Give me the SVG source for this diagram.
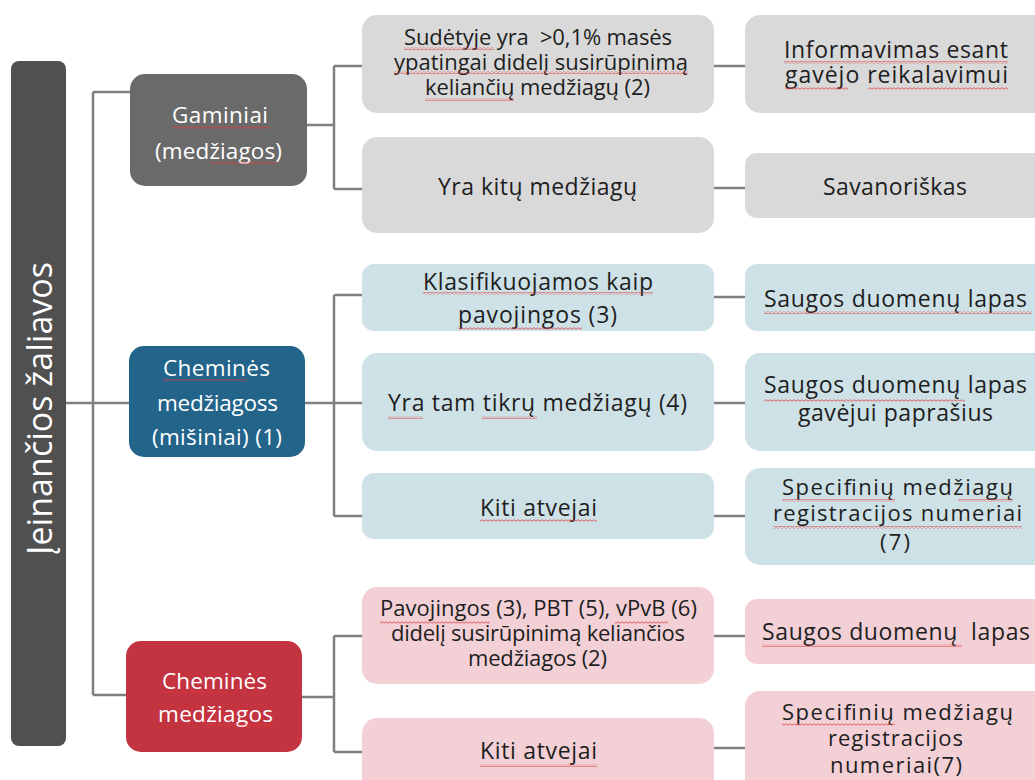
<svg xmlns="http://www.w3.org/2000/svg" width="1035" height="780" viewBox="0 0 1035 780">
<defs>
<pattern id="sq" width="4" height="3" patternUnits="userSpaceOnUse"><path d="M0 2.3 L2 0.7 L4 2.3" fill="none" stroke="#e23b3b" stroke-width="0.8"/></pattern>
<style>
.t{font-family:"Open Sans","Noto Sans",sans-serif;font-size:23px;fill:#1e1e1e;text-anchor:middle}
.t3{font-family:"Open Sans","Noto Sans",sans-serif;font-size:22px;fill:#1e1e1e;text-anchor:middle}
.w{font-family:"Open Sans","Noto Sans",sans-serif;font-size:22.5px;fill:#ffffff;text-anchor:middle}
.c{fill:none;stroke:#7f7f7f;stroke-width:2.5}
.g{fill:#d9d9d9}
.b{fill:#cde1e6}
.p{fill:#f2d0d6}
.s{fill:url(#sq)}
</style>
</defs>
<rect width="1035" height="780" fill="#ffffff"/>
<g id="connectors">
<path class="c" d="M66 403 H93 M93 92 V695 M93 92 H130 M93 403 H129 M93 695 H126"/>
<path class="c" d="M307 125 H334 M334 66 V189 M334 66 H362 M334 189 H362 M714 66 H745 M714 188 H745"/>
<path class="c" d="M305 403 H334 M334 295 V516 M334 295 H362 M334 403 H362 M334 516 H362 M714 297 H745 M714 403 H745 M714 516 H745"/>
<path class="c" d="M302 697 H334 M334 636 V752 M334 636 H362 M334 752 H362 M714 636 H745 M714 748 H745"/>
</g>
<g id="root">
<rect x="11" y="61" width="55" height="685" rx="8" fill="#505050"/>
<text transform="translate(52,408.5) rotate(-90)" textLength="293" style="font-family:'Open Sans','Noto Sans',sans-serif;font-size:34px;fill:#ffffff;text-anchor:middle">Įeinančios žaliavos</text>
</g>
<g id="gaminiai">
<rect x="130" y="74" width="177" height="112" rx="15" fill="#6a6a6a"/>
<text class="w" x="220" y="123" textLength="96">Gaminiai</text>
<text class="w" x="218.5" y="159" textLength="127">(medžiagos)</text>
<rect class="s" x="172" y="126" width="98" height="3"/>
<rect class="s" x="210" y="161" width="67" height="3"/>
</g>
<g id="g1">
<rect class="g" x="362" y="15" width="352" height="98" rx="15"/>
<text class="t3" x="538" y="45" xml:space="preserve" textLength="268">Sudėtyje yra  &gt;0,1% masės</text>
<text class="t3" x="541" y="70" textLength="294">ypatingai didelį susirūpinimą</text>
<text class="t3" x="537.5" y="95" textLength="225">keliančių medžiagų (2)</text>
<rect class="s" x="404" y="47" width="90" height="3"/>
<rect class="s" x="394" y="71" width="294" height="3"/>
<rect class="s" x="425" y="98" width="89" height="3"/>
</g>
<g id="g2">
<rect class="g" x="362" y="137" width="352" height="96" rx="15"/>
<text class="t" x="537.5" y="195" textLength="199">Yra kitų medžiagų</text>
</g>
<g id="g1r">
<rect class="g" x="745" y="15" width="310" height="98" rx="15"/>
<text class="t" x="896" y="58" textLength="224">Informavimas esant</text>
<text class="t" x="896.5" y="83" textLength="223">gavėjo reikalavimui</text>
<rect class="s" x="784" y="61" width="224" height="3"/>
<rect class="s" x="785" y="87" width="63" height="3"/>
<rect class="s" x="868" y="87" width="140" height="3"/>
</g>
<g id="g2r">
<rect class="g" x="745" y="153" width="310" height="65" rx="12"/>
<text class="t" x="895" y="195" textLength="144">Savanoriškas</text>
</g>
<g id="misiniai">
<rect x="129" y="346" width="176" height="111" rx="15" fill="#23648a"/>
<text class="w" x="216.5" y="376" textLength="107">Cheminės</text>
<text class="w" x="217.5" y="411" textLength="121">medžiagoss</text>
<text class="w" x="217" y="445" textLength="130">(mišiniai) (1)</text>
<rect class="s" x="163" y="379" width="84" height="3"/>
</g>
<g id="b1">
<rect class="b" x="362" y="264" width="352" height="67" rx="12"/>
<text class="t" x="538" y="290" textLength="230">Klasifikuojamos kaip</text>
<text class="t" x="537.5" y="323" textLength="159">pavojingos (3)</text>
<rect class="s" x="423" y="292" width="230" height="3"/>
<rect class="s" x="458" y="327" width="124" height="3"/>
</g>
<g id="b2">
<rect class="b" x="362" y="353" width="352" height="98" rx="15"/>
<text class="t" x="537.5" y="411" textLength="299">Yra tam tikrų medžiagų (4)</text>
<rect class="s" x="388" y="416" width="35" height="3"/>
<rect class="s" x="482" y="416" width="55" height="3"/>
</g>
<g id="b3">
<rect class="b" x="362" y="473" width="352" height="66" rx="12"/>
<text class="t" x="538.5" y="516" textLength="117">Kiti atvejai</text>
<rect class="s" x="480" y="519" width="117" height="3"/>
</g>
<g id="b1r">
<rect class="b" x="745" y="264" width="310" height="67" rx="12"/>
<text class="t" x="895.5" y="307" textLength="263">Saugos duomenų lapas</text>
<rect class="s" x="764" y="311" width="268" height="3"/>
</g>
<g id="b2r">
<rect class="b" x="745" y="353" width="310" height="98" rx="15"/>
<text class="t" x="895.5" y="393" textLength="263">Saugos duomenų lapas</text>
<text class="t" x="895.5" y="421" textLength="195">gavėjui paprašius</text>
<rect class="s" x="764" y="399" width="201" height="3"/>
</g>
<g id="b3r">
<rect class="b" x="745" y="468" width="310" height="97" rx="15"/>
<text class="t3" x="897.5" y="495" textLength="231">Specifinių medžiagų</text>
<text class="t3" x="897.5" y="521" textLength="249">registracijos numeriai</text>
<text class="t3" x="895" y="550" textLength="30">(7)</text>
<rect class="s" x="782" y="499" width="113" height="3"/>
<rect class="s" x="958" y="499" width="55" height="3"/>
<rect class="s" x="773" y="526" width="249" height="3"/>
</g>
<g id="medziagos">
<rect x="126" y="641" width="176" height="111" rx="15" fill="#c33340"/>
<text class="w" x="214.5" y="689" textLength="105">Cheminės</text>
<text class="w" x="215.5" y="722" textLength="115">medžiagos</text>
<rect class="s" x="163" y="691" width="64" height="3"/>
<rect class="s" x="207" y="724" width="66" height="3"/>
</g>
<g id="r1">
<rect class="p" x="362" y="587" width="352" height="97" rx="15"/>
<text class="t3" x="538.5" y="616" textLength="317">Pavojingos (3), PBT (5), vPvB (6)</text>
<text class="t3" x="538" y="641" textLength="294">didelį susirūpinimą keliančios</text>
<text class="t3" x="537.5" y="666" textLength="139">medžiagos (2)</text>
<rect class="s" x="380" y="621" width="110" height="3"/>
<rect class="s" x="615" y="621" width="53" height="3"/>
</g>
<g id="r2">
<rect class="p" x="362" y="718" width="352" height="80" rx="15"/>
<text class="t" x="538.5" y="759" textLength="117">Kiti atvejai</text>
<rect class="s" x="480" y="764" width="117" height="3"/>
</g>
<g id="r1r">
<rect class="p" x="745" y="599" width="310" height="65" rx="12"/>
<text class="t" x="896" y="640" xml:space="preserve" textLength="268">Saugos duomenų  lapas</text>
<rect class="s" x="762" y="644" width="200" height="3"/>
</g>
<g id="r2r">
<rect class="p" x="745" y="691" width="310" height="107" rx="15"/>
<text class="t3" x="897.5" y="720" textLength="231">Specifinių medžiagų</text>
<text class="t3" x="895.5" y="746" textLength="135">registracijos</text>
<text class="t3" x="896" y="773" textLength="132">numeriai(7)</text>
<rect class="s" x="782" y="723" width="113" height="3"/>
</g>
</svg>
